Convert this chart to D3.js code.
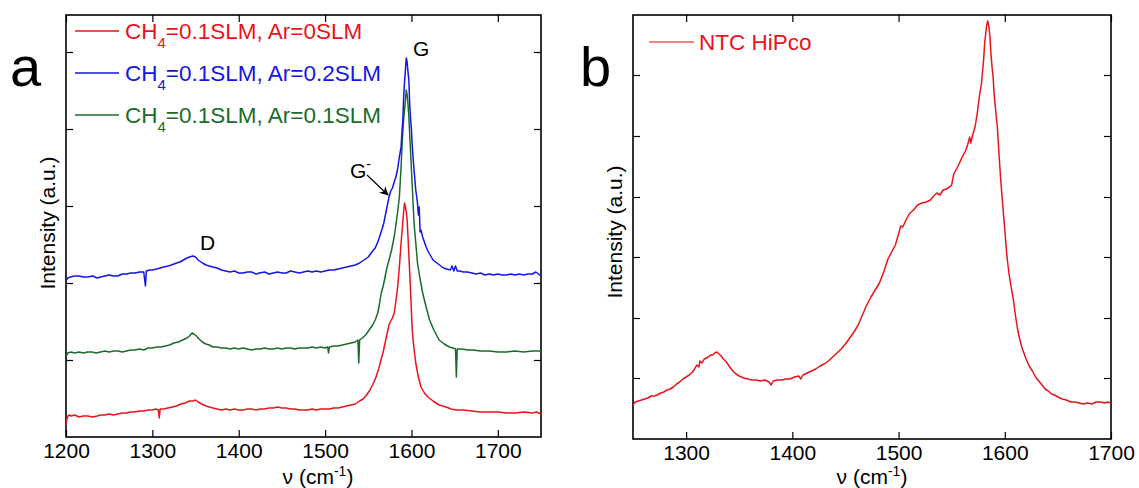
<!DOCTYPE html>
<html>
<head>
<meta charset="utf-8">
<script src="https://cdn.jsdelivr.net/npm/d3@7"></script>
<style>
  html, body { margin: 0; padding: 0; background: #fff; }
  svg { display: block; font-family: "Liberation Sans", Arial, sans-serif; }
</style>
</head>
<body>
<svg id="chart" width="1139" height="488"></svg>
<script>
// ---------------- DATA ----------------
// Panel a: Raman shift (cm^-1) vs intensity (a.u.)
const xTicksA = [1200, 1300, 1400, 1500, 1600, 1700];
const yTicksA = [77, 154, 231, 308, 385];
const xTicksB = [1300, 1400, 1500, 1600, 1700];
const yTicksB = [61, 121, 182, 242, 303, 364];

const legendA = ["CH4=0.1SLM, Ar=0SLM", "CH4=0.1SLM, Ar=0.2SLM", "CH4=0.1SLM, Ar=0.1SLM"];
const legendB = ["NTC HiPco"];

const seriesRed = [[1200,12],[1201,18],[1203,22],[1206,21],[1210,22],[1215,20],[1220,21],[1225,21],[1231,20],[1236,21],[1240,22],[1245,22],[1250,23],[1255,22],[1260,23],[1265,24],[1270,24],[1275,25],[1280,25],[1285,26],[1290,26],[1295,27],[1300,27],[1304,28],[1307,27],[1308,19],[1309,28],[1313,28],[1318,29],[1323,30],[1328,31],[1333,33],[1338,34],[1343,36],[1347,36],[1350,37],[1353,35],[1357,33],[1362,31],[1366,30],[1370,29],[1375,28],[1380,27],[1385,28],[1390,27],[1395,28],[1400,27],[1405,27],[1410,28],[1415,28],[1420,27],[1425,28],[1430,28],[1435,29],[1440,29],[1445,30],[1450,29],[1455,29],[1460,28],[1465,28],[1470,27],[1475,27],[1480,27],[1485,28],[1490,27],[1495,28],[1500,28],[1505,28],[1510,29],[1515,29],[1520,30],[1525,31],[1530,32],[1535,33],[1540,36],[1544,38],[1548,42],[1552,47],[1555,52],[1559,60],[1562,68],[1565,78],[1567,84],[1570,96],[1572,104],[1574,112],[1576,116],[1578,119],[1580,124],[1582,136],[1584,150],[1586,170],[1588,194],[1590,215],[1591,226],[1592,234],[1593,230],[1594,225],[1595,217],[1596,200],[1597,182],[1598,164],[1599,145],[1600,125],[1601,107],[1602,96],[1603,88],[1605,74],[1608,60],[1611,50],[1615,44],[1619,40],[1625,36],[1632,32],[1640,30],[1646,28],[1652,27],[1660,27],[1670,26],[1680,25],[1690,25],[1700,25],[1710,24],[1720,24],[1730,25],[1740,24],[1745,25],[1750,23]];

const seriesBlue = [[1200,156],[1202,159],[1205,160],[1210,161],[1215,161],[1220,160],[1225,160],[1231,161],[1236,159],[1240,160],[1245,161],[1250,162],[1255,161],[1260,161],[1265,163],[1270,163],[1275,164],[1280,164],[1285,165],[1290,165],[1292,151],[1293,166],[1297,167],[1300,167],[1305,168],[1309,169],[1313,170],[1318,171],[1322,172],[1328,174],[1332,175],[1336,177],[1340,179],[1343,180],[1347,181],[1350,180],[1353,177],[1358,174],[1362,172],[1366,171],[1370,170],[1375,169],[1380,167],[1385,166],[1390,165],[1395,166],[1400,164],[1405,164],[1410,165],[1415,165],[1420,163],[1424,164],[1430,165],[1435,163],[1440,164],[1445,165],[1450,164],[1455,164],[1460,166],[1465,165],[1470,164],[1475,165],[1480,166],[1485,165],[1490,166],[1495,165],[1500,166],[1505,167],[1510,167],[1515,168],[1520,169],[1525,170],[1530,171],[1535,172],[1540,174],[1545,177],[1550,180],[1555,186],[1558,189],[1561,195],[1563,200],[1566,208],[1568,214],[1571,227],[1574,240],[1576,246],[1578,249],[1580,255],[1582,260],[1584,268],[1586,280],[1588,290],[1589,305],[1590,317],[1591,340],[1592,355],[1593,367],[1594,379],[1595,375],[1596,365],[1597,357],[1598,332],[1599,318],[1600,307],[1601,290],[1602,278],[1603,267],[1605,247],[1607,234],[1608,222],[1609,230],[1610,205],[1611,207],[1613,200],[1615,195],[1617,190],[1619,186],[1621,183],[1623,180],[1625,177],[1628,175],[1631,173],[1634,171],[1637,169],[1641,168],[1645,167],[1647,171],[1649,166],[1651,171],[1653,166],[1656,166],[1660,165],[1665,165],[1670,164],[1675,163],[1680,164],[1685,162],[1690,163],[1695,162],[1700,163],[1705,162],[1710,162],[1715,163],[1720,162],[1725,163],[1730,162],[1735,163],[1740,163],[1744,165],[1747,163],[1750,161]];

const seriesGreen = [[1200,80],[1202,84],[1206,85],[1210,84],[1215,85],[1220,84],[1225,85],[1230,85],[1235,84],[1240,85],[1245,86],[1250,85],[1255,86],[1260,86],[1265,85],[1270,86],[1275,87],[1280,87],[1285,88],[1290,87],[1295,89],[1300,89],[1305,90],[1310,90],[1315,91],[1320,92],[1325,94],[1330,95],[1335,97],[1340,99],[1343,101],[1346,104],[1348,103],[1351,101],[1354,98],[1358,95],[1362,93],[1366,92],[1370,90],[1375,90],[1380,89],[1385,89],[1390,88],[1395,89],[1400,88],[1405,89],[1410,88],[1415,87],[1420,88],[1425,88],[1430,89],[1435,88],[1440,88],[1445,89],[1450,88],[1455,89],[1460,89],[1465,88],[1470,89],[1475,89],[1480,89],[1485,90],[1490,89],[1495,90],[1500,89],[1503,90],[1504,84],[1505,90],[1510,91],[1515,91],[1520,92],[1525,93],[1530,94],[1535,95],[1538,97],[1539,74],[1540,97],[1543,99],[1547,102],[1551,107],[1555,112],[1558,117],[1561,124],[1563,133],[1565,144],[1567,150],[1569,158],[1571,167],[1574,177],[1577,187],[1580,200],[1582,212],[1584,225],[1586,240],[1588,270],[1589,290],[1590,305],[1591,318],[1592,327],[1593,337],[1594,347],[1595,342],[1596,333],[1597,320],[1598,302],[1599,285],[1600,267],[1601,250],[1602,232],[1603,214],[1605,194],[1607,174],[1610,158],[1613,144],[1617,130],[1621,117],[1626,107],[1632,97],[1638,93],[1644,90],[1648,89],[1651,88],[1652,60],[1653,88],[1658,88],[1665,87],[1671,87],[1680,86],[1690,86],[1700,85],[1710,85],[1720,86],[1730,85],[1740,86],[1750,86]];

const seriesHiPco = [[1250,34],[1252,37],[1255,38],[1258,39],[1261,40],[1264,41],[1267,43],[1270,43],[1273,44],[1276,46],[1279,47],[1282,49],[1285,50],[1288,52],[1291,55],[1294,57],[1297,60],[1300,62],[1303,64],[1306,67],[1308,70],[1310,74],[1312,72],[1313,78],[1315,76],[1317,80],[1319,81],[1321,82],[1323,84],[1325,84],[1327,86],[1329,87],[1331,85],[1333,83],[1335,80],[1338,77],[1341,72],[1344,68],[1347,65],[1350,63],[1354,61],[1358,60],[1362,59],[1366,59],[1370,58],[1374,59],[1378,57],[1380,54],[1382,58],[1386,59],[1390,59],[1394,60],[1398,60],[1402,62],[1406,63],[1408,60],[1410,64],[1414,66],[1418,68],[1422,70],[1426,73],[1430,75],[1434,78],[1438,82],[1442,86],[1446,90],[1450,95],[1454,101],[1458,107],[1462,114],[1466,124],[1470,134],[1474,142],[1478,149],[1482,156],[1486,167],[1490,180],[1494,188],[1497,194],[1500,205],[1502,213],[1504,212],[1507,219],[1510,225],[1514,229],[1518,234],[1522,236],[1526,237],[1530,239],[1533,243],[1536,246],[1539,244],[1542,249],[1545,250],[1548,252],[1550,254],[1552,265],[1555,271],[1557,275],[1559,280],[1561,284],[1563,288],[1565,294],[1567,302],[1568,296],[1570,305],[1572,312],[1574,325],[1576,342],[1578,355],[1580,378],[1581,395],[1582,405],[1583,414],[1584,418],[1585,413],[1586,403],[1587,385],[1588,372],[1589,362],[1590,345],[1591,333],[1592,322],[1593,312],[1594,295],[1595,278],[1596,262],[1597,248],[1598,235],[1599,222],[1600,210],[1601,196],[1602,183],[1604,165],[1606,152],[1608,140],[1610,124],[1612,110],[1614,100],[1616,92],[1618,86],[1620,80],[1623,73],[1626,68],[1629,62],[1632,58],[1635,54],[1638,50],[1641,48],[1644,45],[1647,44],[1650,42],[1654,40],[1658,39],[1662,37],[1666,37],[1670,36],[1674,35],[1678,36],[1682,35],[1686,37],[1690,37],[1694,36],[1697,37],[1700,36]];

// ---------------- STYLE ----------------
const RED = "#e8141b", BLUE = "#1515e6", GREEN = "#1c6b2c";
const svg = d3.select("#chart");

function panel(opts) {
  const {left, right, top, bottom, xDomain, yDomain, xTicks, yTicks, id} = opts;
  const x = d3.scaleLinear().domain(xDomain).range([left, right]);
  const y = d3.scaleLinear().domain(yDomain).range([bottom, top]);
  const g = svg.append("g");

  svg.append("defs").append("clipPath").attr("id", id)
    .append("rect").attr("x", left).attr("y", top)
    .attr("width", right - left).attr("height", bottom - top);

  const tick = 7;
  const bx = g.append("g").attr("transform", `translate(0,${bottom})`)
    .call(d3.axisBottom(x).tickValues(xTicks).tickSizeInner(-tick).tickSizeOuter(0).tickPadding(6).tickFormat(d3.format("d")));
  bx.selectAll("text").attr("font-size", 21).attr("fill", "#000").attr("font-family", "Liberation Sans, Arial, sans-serif");
  const tx = g.append("g").attr("transform", `translate(0,${top})`)
    .call(d3.axisTop(x).tickValues(xTicks).tickSizeInner(-tick).tickSizeOuter(0).tickFormat(""));
  const ly = g.append("g").attr("transform", `translate(${left},0)`)
    .call(d3.axisLeft(y).tickValues(yTicks).tickSizeInner(-tick).tickSizeOuter(0).tickFormat(""));
  const ry = g.append("g").attr("transform", `translate(${right},0)`)
    .call(d3.axisRight(y).tickValues(yTicks).tickSizeInner(-tick).tickSizeOuter(0).tickFormat(""));
  [bx, tx, ly, ry].forEach(a => {
    a.select(".domain").remove();
    a.selectAll("line").attr("stroke", "#000").attr("stroke-width", 1.2);
  });
  g.append("rect").attr("x", left).attr("y", top)
    .attr("width", right - left).attr("height", bottom - top)
    .attr("fill", "none").attr("stroke", "#000").attr("stroke-width", 1.6);
  return {x, y, g};
}

function xTitle(cx, yBase) {
  const t = svg.append("text").attr("x", cx).attr("y", yBase)
    .attr("text-anchor", "middle").attr("font-size", 21).attr("fill", "#000");
  t.append("tspan").text("\u03bd (cm");
  t.append("tspan").attr("dy", -8).attr("font-size", 14).text("-1");
  t.append("tspan").attr("dy", 8).text(")");
}
function yTitle(cx, cy) {
  svg.append("text").attr("transform", `translate(${cx},${cy}) rotate(-90)`)
    .attr("text-anchor", "middle").attr("font-size", 21).attr("fill", "#000")
    .text("Intensity (a.u.)");
}
function legendLabel(x, y, label, color) {
  const t = svg.append("text").attr("x", x).attr("y", y).attr("font-size", 22.5).attr("fill", color);
  const m = label.match(/^CH4(.*)$/);
  if (m) {
    t.append("tspan").text("CH");
    t.append("tspan").attr("dy", 9).attr("font-size", 15).text("4");
    t.append("tspan").attr("dy", -9).text(m[1]);
  } else {
    t.text(label);
  }
}

// ---------------- PANEL A ----------------
const A = panel({left: 66, right: 541, top: 15, bottom: 437,
  xDomain: [1200, 1750], yDomain: [0, 422], xTicks: xTicksA, yTicks: yTicksA, id: "clipA"});
const lineA = d3.line().x(d => A.x(d[0])).y(d => A.y(d[1]));
[[seriesRed, RED], [seriesGreen, GREEN], [seriesBlue, BLUE]].forEach(([s, c]) => {
  svg.append("path").datum(s).attr("d", lineA).attr("fill", "none")
    .attr("stroke", c).attr("stroke-width", 1.5).attr("stroke-linejoin", "round")
    .attr("clip-path", "url(#clipA)");
});
const legColors = [RED, BLUE, GREEN];
legendA.forEach((lab, i) => {
  const yy = 31 + i * 42;
  svg.append("line").attr("x1", 75).attr("x2", 119).attr("y1", yy).attr("y2", yy)
    .attr("stroke", legColors[i]).attr("stroke-width", 1.3);
  legendLabel(125, yy + 8, lab, legColors[i]);
});
svg.append("text").attr("x", 10).attr("y", 86).attr("font-size", 56).attr("fill", "#000").text("a");
svg.append("text").attr("x", 413).attr("y", 56).attr("font-size", 21).attr("fill", "#000").text("G");
svg.append("text").attr("x", 200).attr("y", 250).attr("font-size", 21).attr("fill", "#000").text("D");
const gm = svg.append("text").attr("x", 350).attr("y", 178).attr("font-size", 21).attr("fill", "#000");
gm.append("tspan").text("G");
gm.append("tspan").attr("dy", -9).attr("font-size", 14).text("-");
svg.append("defs").append("marker").attr("id", "arr").attr("viewBox", "0 0 10 10")
  .attr("refX", 9).attr("refY", 5).attr("markerWidth", 9).attr("markerHeight", 9)
  .attr("orient", "auto").attr("markerUnits", "userSpaceOnUse")
  .append("path").attr("d", "M0,0 L10,5 L0,10 L3,5 Z").attr("fill", "#000");
svg.append("line").attr("x1", 367).attr("y1", 175).attr("x2", A.x(1574) - 1).attr("y2", A.y(240) - 2)
  .attr("stroke", "#000").attr("stroke-width", 1.2).attr("marker-end", "url(#arr)");
xTitle(318, 484);
yTitle(55, 223);

// ---------------- PANEL B ----------------
const B = panel({left: 633, right: 1111, top: 15, bottom: 439,
  xDomain: [1250, 1700], yDomain: [0, 424], xTicks: xTicksB, yTicks: yTicksB, id: "clipB"});
const lineB = d3.line().x(d => B.x(d[0])).y(d => B.y(d[1]));
svg.append("path").datum(seriesHiPco).attr("d", lineB).attr("fill", "none")
  .attr("stroke", RED).attr("stroke-width", 1.5).attr("stroke-linejoin", "round")
  .attr("clip-path", "url(#clipB)");
svg.append("line").attr("x1", 649).attr("x2", 694).attr("y1", 42).attr("y2", 42)
  .attr("stroke", RED).attr("stroke-opacity", 0.7).attr("stroke-width", 1.3);
legendLabel(699, 50, legendB[0], RED);
svg.append("text").attr("x", 580).attr("y", 86).attr("font-size", 56).attr("fill", "#000").text("b");
xTitle(872, 484);
yTitle(622, 232);
</script>
</body>
</html>
